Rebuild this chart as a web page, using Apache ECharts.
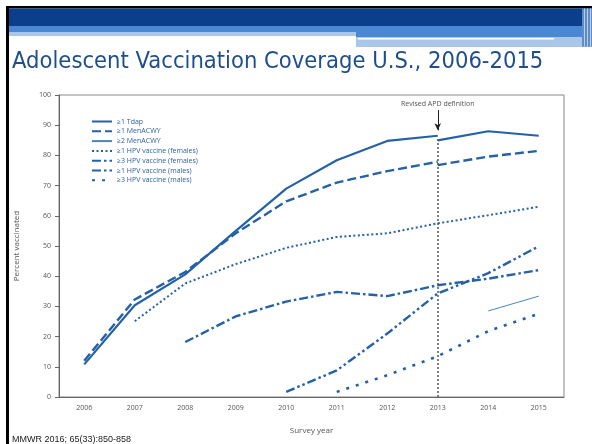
<!DOCTYPE html>
<html>
<head>
<meta charset="utf-8">
<script src="https://cdn.jsdelivr.net/npm/echarts@6/dist/echarts.min.js"></script>
<style>
html,body{margin:0;padding:0;background:#fff;}
#chart{width:592px;height:444px;}
</style>
</head>
<body>
<div id="chart"></div>
<script>
var years = ['2006','2007','2008','2009','2010','2011','2012','2013','2014','2015'];
var yTicks = [0,10,20,30,40,50,60,70,80,90,100];
// values before the revised APD definition (through 2013) and after (from 2013)
var tdapOld     = [10.8, 30.4, 40.6, 55.0, 69.0, 78.4, 84.8, 86.5, null, null];
var tdapNew     = [null, null, null, null, null, null, null, 85.0, 88.0, 86.5];
var men1Old     = [12.0, 32.3, 41.4, 54.2, 64.8, 71.0, 74.8, 77.9, null, null];
var men1New     = [null, null, null, null, null, null, null, 76.8, 79.6, 81.5];
var men2        = [null, null, null, null, null, null, null, null, 28.5, 33.4];
var hpvF1       = [null, 25.1, 37.6, 44.0, 49.4, 53.0, 54.2, 57.5, 60.2, 63.0];
var hpvF3       = [null, null, 18.2, 26.7, 31.6, 34.8, 33.4, 37.0, 39.2, 42.0];
var hpvM1       = [null, null, null, null, 1.7, 8.8, 21.0, 34.3, 41.0, 49.9];
var hpvM3       = [null, null, null, null, null, 1.7, 7.2, 13.5, 21.8, 27.6];
var names = ['\u22651 Tdap','\u22651 MenACWY','\u22652 MenACWY','\u22651 HPV vaccine (females)','\u22653 HPV vaccine (females)','\u22651 HPV vaccine (males)','\u22653 HPV vaccine (males)'];
var markerLabel = 'Revised APD definition';

var C = '#2461a6';
function ser(name, data, type, width, color, extra){
  var s = {name:name, type:'line', data:data, symbol:'none', showSymbol:false, connectNulls:false,
    lineStyle:{color:color||C, width:width, type:type, cap:'butt'}, itemStyle:{color:color||C}, z:3, animation:false};
  if(extra){ for(var k in extra){ s[k]=extra[k]; } }
  return s;
}
var chart = echarts.init(document.getElementById('chart'), null, {renderer:'canvas'});
var series = [
  ser(names[0], tdapOld, 'solid', 2.2, C, {markLine:{
    silent:true, animation:false, symbol:['none','none'],
    lineStyle:{color:'#555', type:[2,2], width:1.5},
    label:{show:false},
    data:[[{coord:['2013',0]},{coord:['2013',85.6]}]]
  }}),
  ser(names[0], tdapNew, 'solid', 2.2),
  ser(names[1], men1Old, [9,4], 2.4),
  ser(names[1], men1New, [9,4], 2.4),
  ser(names[2], men2, 'solid', 1, '#4a84c6'),
  ser(names[3], hpvF1, [2,2.5], 2),
  ser(names[4], hpvF3, [9,3,2.5,3], 2.4),
  ser(names[5], hpvM1, [9,3,2.5,3,2.5,3], 2.4),
  ser(names[6], hpvM3, [3,7], 2.6),
  {type:'line', data:[], markLine:{
    silent:true, animation:false, symbol:['none','arrow'], symbolSize:[5,7],
    lineStyle:{color:'#222', type:'solid', width:1},
    label:{show:true, position:'start', formatter:markerLabel, fontSize:7, color:'#555', fontFamily:'Open Sans', distance:3},
    data:[[{coord:['2013',95]},{coord:['2013',88.3]}]]
  }}
];
chart.setOption({
  animation:false,
  backgroundColor:'#fff',
  grid:{left:59, right:28, top:95, bottom:47, show:true, borderColor:'#888', borderWidth:1, containLabel:false},
  legend:{
    data:names, orient:'vertical', left:86, top:113, itemWidth:20, itemHeight:8, itemGap:2.8,
    itemStyle:{opacity:0},
    textStyle:{fontSize:7, color:'#2f5f9c', fontFamily:'Open Sans'}
  },
  xAxis:{
    type:'category', data:years, boundaryGap:true,
    name:'Survey year', nameLocation:'middle', nameGap:30,
    nameTextStyle:{fontSize:8, color:'#555', fontFamily:'Open Sans'},
    axisLine:{lineStyle:{color:'#666', width:1}},
    axisTick:{alignWithLabel:true, length:4, lineStyle:{color:'#666'}},
    axisLabel:{fontSize:7, color:'#555', margin:7, fontFamily:'Open Sans'},
    splitLine:{show:false}
  },
  yAxis:{
    type:'value', min:yTicks[0], max:yTicks[yTicks.length-1], interval:10,
    name:'Percent vaccinated', nameLocation:'middle', nameGap:38,
    nameTextStyle:{fontSize:8, color:'#555', fontFamily:'Open Sans'},
    axisLine:{show:true, lineStyle:{color:'#666', width:1}},
    axisTick:{show:true, length:4, lineStyle:{color:'#666'}},
    axisLabel:{fontSize:7, color:'#555', margin:8, fontFamily:'Open Sans'},
    splitLine:{show:false}
  },
  series:series,
  graphic:[
    {type:'rect', shape:{x:7,y:6,width:585,height:2.6}, style:{fill:'#000'}, silent:true},
    {type:'rect', shape:{x:6,y:6,width:3,height:438}, style:{fill:'#000'}, silent:true},
    {type:'rect', shape:{x:9,y:8.6,width:583,height:17.6}, style:{fill:'#0b3f8b'}, silent:true},
    {type:'rect', shape:{x:9,y:26,width:347,height:6}, style:{fill:'#4b88d3'}, silent:true},
    {type:'rect', shape:{x:9,y:32,width:347,height:4}, style:{fill:'#aac6ea'}, silent:true},
    {type:'rect', shape:{x:356,y:26,width:236,height:11}, style:{fill:'#4b88d3'}, silent:true},
    {type:'rect', shape:{x:356,y:37,width:236,height:10}, style:{fill:'#aac6ea'}, silent:true},
    {type:'rect', shape:{x:358,y:38,width:196,height:1.6}, style:{fill:'#fff'}, silent:true},
    {type:'rect', shape:{x:582,y:8.6,width:10,height:38}, style:{fill:'#5f8bc6'}, silent:true},
    {type:'rect', shape:{x:584,y:8.6,width:1,height:38}, style:{fill:'#b8cdea'}, silent:true},
    {type:'rect', shape:{x:587,y:8.6,width:1,height:38}, style:{fill:'#b8cdea'}, silent:true},
    {type:'rect', shape:{x:590,y:8.6,width:1,height:38}, style:{fill:'#b8cdea'}, silent:true},
    {type:'text', x:12, y:51, scaleX:0.92, style:{text:'Adolescent Vaccination Coverage U.S., 2006-2015', fontSize:23, fill:'#1f4e8c', fontFamily:'DejaVu Sans'}, silent:true},
    {type:'text', left:12, top:435, style:{text:'MMWR 2016; 65(33):850-858', fontSize:9, fill:'#222', fontFamily:'Liberation Sans'}, silent:true}
  ]
});
</script>
</body>
</html>
